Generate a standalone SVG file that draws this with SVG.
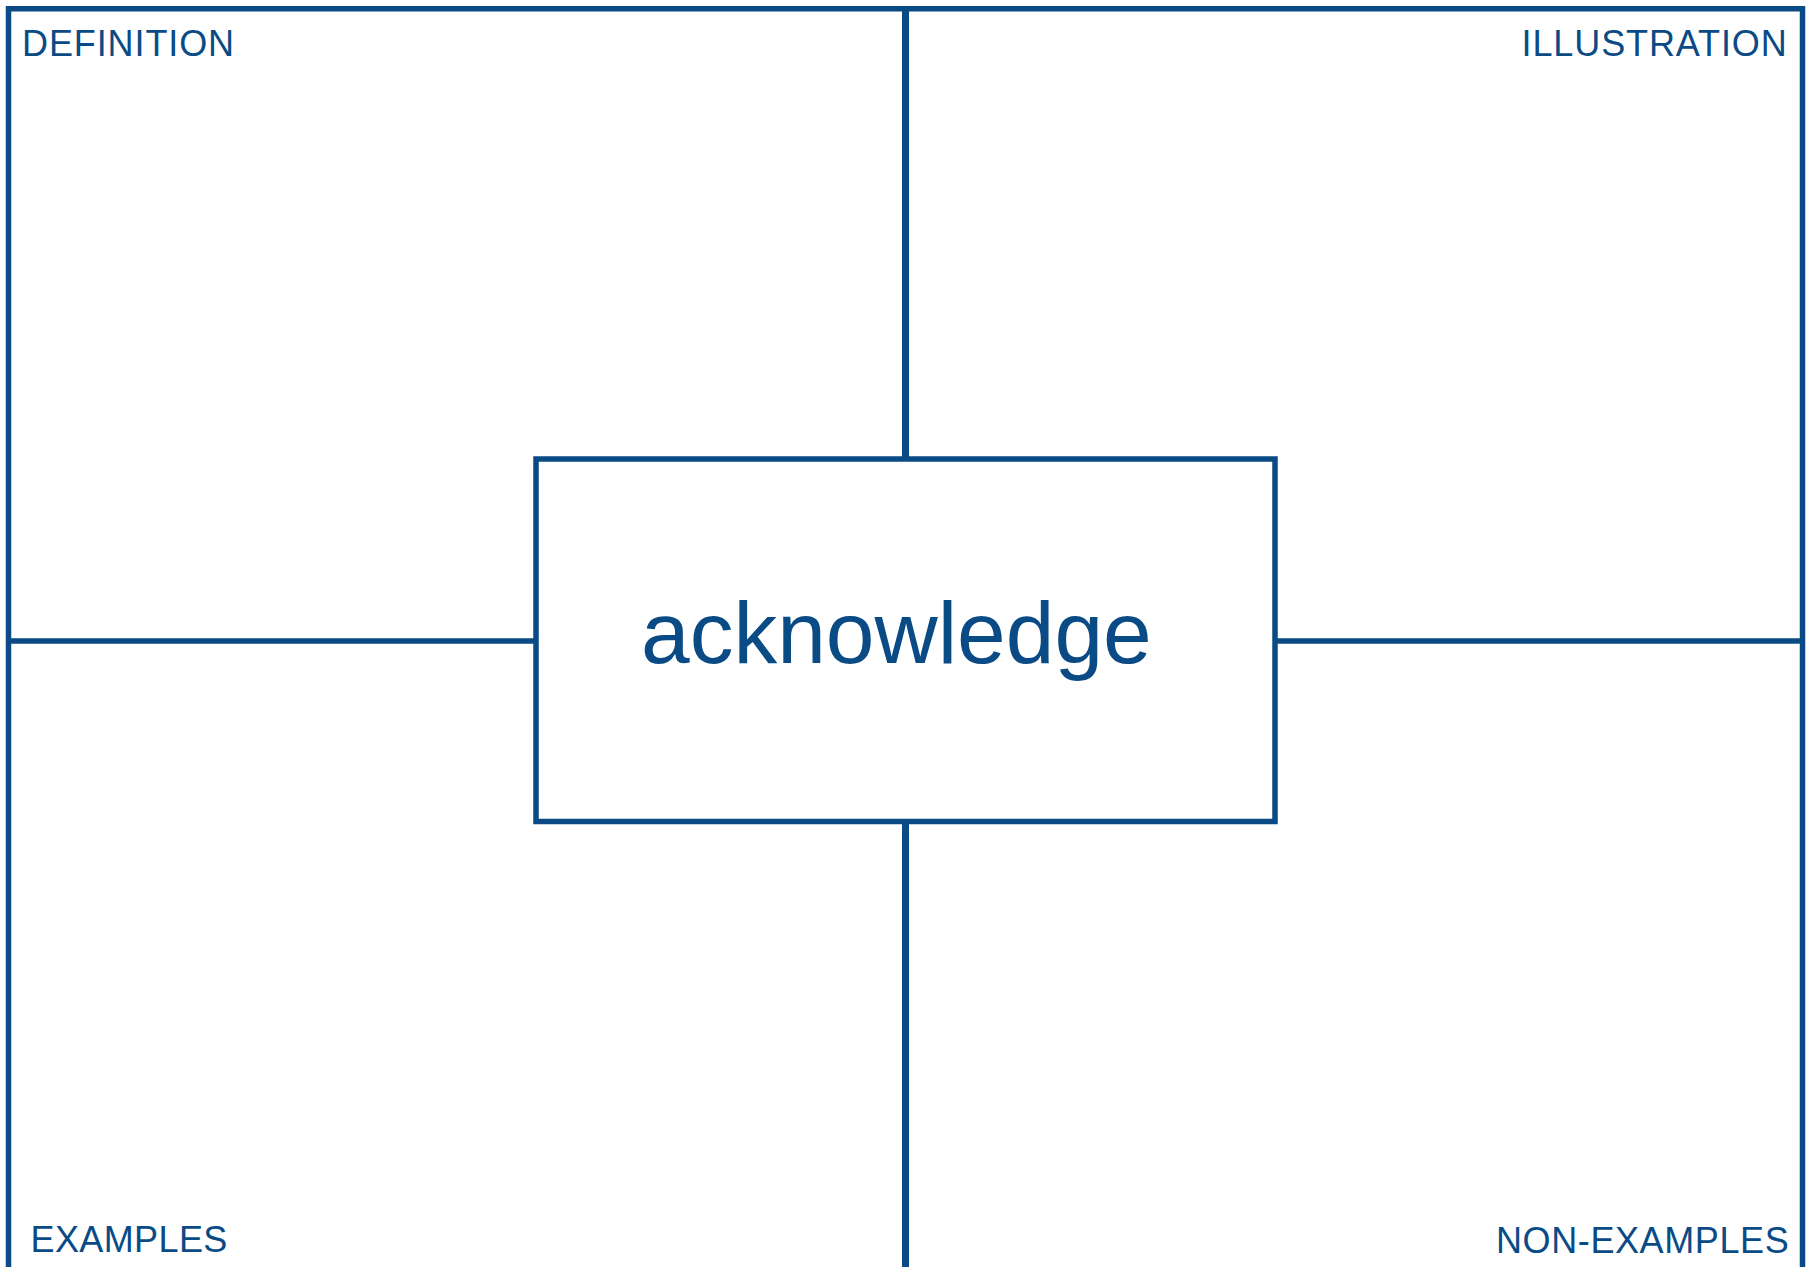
<svg xmlns="http://www.w3.org/2000/svg" width="1813" height="1267" viewBox="0 0 1813 1267">
<style>
.ln{stroke:#0a4b86;stroke-width:5.5;fill:none}
.lv{stroke:#0a4b86;stroke-width:7;fill:none}
.lbl{font-family:"Liberation Sans",Arial,sans-serif;font-size:36px;letter-spacing:0.9px;fill:#0a4b86}
.word{font-family:"Liberation Sans",Arial,sans-serif;font-size:87.5px;fill:#0a4b86}
</style>
<rect width="1813" height="1267" fill="#fff"/>
<g id="connectors">
<polyline class="ln" points="8.5,1267 8.5,8.7 1802.5,8.7 1802.5,1267"/>
<line class="lv" x1="905.5" y1="8" x2="905.5" y2="459"/>
<line class="lv" x1="905.5" y1="821.5" x2="905.5" y2="1267"/>
<line class="ln" x1="8" y1="641" x2="536" y2="641"/>
<line class="ln" x1="1275" y1="641" x2="1802" y2="641"/>
</g>
<g id="definition"><text class="lbl" x="22" y="56">DEFINITION</text></g>
<g id="illustration"><text class="lbl" x="1521.5" y="56">ILLUSTRATION</text></g>
<g id="examples"><text class="lbl" x="30.5" y="1251.5" style="letter-spacing:0.4px">EXAMPLES</text></g>
<g id="non-examples"><text class="lbl" x="1496" y="1253" style="letter-spacing:0.6px">NON-EXAMPLES</text></g>
<g id="center">
<rect class="ln" x="536" y="459" width="739" height="362.5"/>
<text class="word" x="641" y="662.7">acknowledge</text>
</g>
</svg>
